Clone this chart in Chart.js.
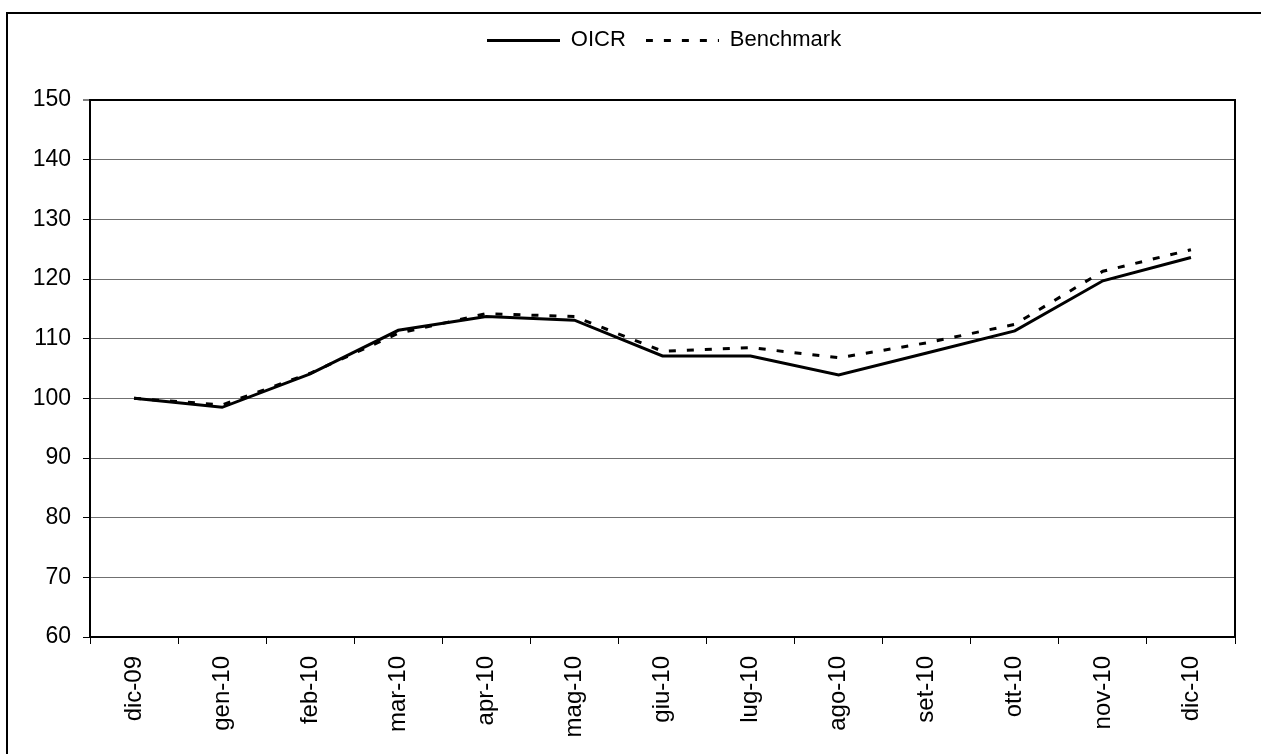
<!DOCTYPE html>
<html>
<head>
<meta charset="utf-8">
<script src="https://cdn.jsdelivr.net/npm/chart.js@4"></script>
<style>
  html, body { margin: 0; padding: 0; background: #fff; overflow: hidden; }
  #frame { position: absolute; left: 6px; top: 12px; width: 1400px; height: 800px; border: 2px solid #000; }
  #chart { position: absolute; left: 0; top: 0; }
</style>
</head>
<body>
<div id="frame"></div>
<canvas id="chart" width="1328" height="754"></canvas>
<script>
// --- DATI ---
const mesi = ['dic-09', 'gen-10', 'feb-10', 'mar-10', 'apr-10', 'mag-10', 'giu-10',
              'lug-10', 'ago-10', 'set-10', 'ott-10', 'nov-10', 'dic-10'];
const oicr = [100, 98.5, 104.1, 111.4, 113.7, 113.1, 107.1, 107.1, 103.9, 107.6, 111.3, 119.7, 123.6];
const benchmark = [100, 98.9, 104.2, 110.9, 114.2, 113.7, 107.9, 108.5, 106.8, 109.3, 112.4, 121.3, 124.9];
const yMin = 60;
const yMax = 150;
const yStep = 10;

const tratteggio = [7, 11];

Chart.defaults.font.family = "'Liberation Sans', Arial, sans-serif";
Chart.defaults.color = '#000';

// simbolo della legenda: una linea (piena o tratteggiata) su un piccolo canvas
function legendLine(dash) {
    const c = document.createElement('canvas');
    c.width = 73;
    c.height = 3;
    const g = c.getContext('2d');
    g.strokeStyle = '#000';
    g.lineWidth = 3;
    g.setLineDash(dash);
    g.beginPath();
    g.moveTo(0, 1.5);
    g.lineTo(73, 1.5);
    g.stroke();
    return c;
}

// spazio extra sotto la legenda
const legendGap = {
    id: 'legendGap',
    beforeInit(chart) {
        const originalFit = chart.legend.fit;
        chart.legend.fit = function fit() {
            originalFit.bind(chart.legend)();
            this.height += 39;
        };
    }
};

const ctx = document.getElementById('chart').getContext('2d');

new Chart(ctx, {
    type: 'line',
    data: {
        labels: mesi,
        datasets: [
            {
                label: 'OICR',
                data: oicr,
                borderColor: '#000',
                backgroundColor: '#000',
                borderWidth: 3,
                pointRadius: 0,
                pointStyle: legendLine([]),
                tension: 0
            },
            {
                label: 'Benchmark',
                data: benchmark,
                borderColor: '#000',
                backgroundColor: '#000',
                borderWidth: 3,
                borderDash: tratteggio,
                pointRadius: 0,
                pointStyle: legendLine(tratteggio),
                tension: 0
            }
        ]
    },
    options: {
        responsive: false,
        animation: false,
        layout: { padding: { top: 9, left: 0, right: 0, bottom: 0 } },
        plugins: {
            legend: {
                position: 'top',
                labels: {
                    usePointStyle: true,
                    pointStyleWidth: 73,
                    padding: 20,
                    font: { size: 22 }
                }
            },
            tooltip: { enabled: false }
        },
        scales: {
            x: {
                offset: true,
                grid: {
                    offset: true,
                    drawOnChartArea: false,
                    tickLength: 7,
                    tickColor: '#000',
                    tickWidth: 1
                },
                border: { display: true, color: '#000', width: 2 },
                ticks: {
                    autoSkip: false,
                    minRotation: 90,
                    maxRotation: 90,
                    padding: 12,
                    font: { size: 24 }
                },
                afterFit(scale) { scale.height = 117; }
            },
            y: {
                min: yMin,
                max: yMax,
                ticks: { stepSize: yStep, padding: 12, font: { size: 23 } },
                grid: {
                    color: (c) => c.tick && c.tick.value === yMax ? '#000' : '#707070',
                    lineWidth: (c) => c.tick && c.tick.value === yMax ? 2 : 1,
                    tickLength: 7,
                    tickColor: '#000',
                    tickWidth: 1
                },
                border: { display: true, color: '#000', width: 2 },
                afterFit(scale) { scale.width = 90; }
            },
            // asse destro vuoto: solo bordo del grafico
            y1: {
                position: 'right',
                min: yMin,
                max: yMax,
                ticks: { display: false },
                grid: { display: false },
                border: { display: true, color: '#000', width: 2 },
                afterFit(scale) { scale.width = 93; }
            }
        }
    },
    plugins: [legendGap]
});
</script>
</body>
</html>
